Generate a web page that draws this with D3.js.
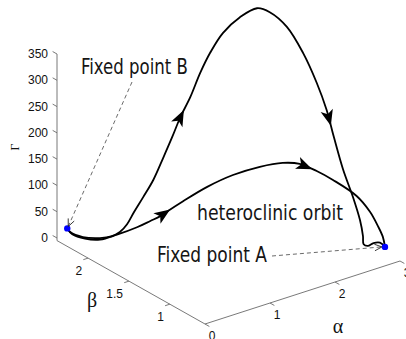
<!DOCTYPE html>
<html><head><meta charset="utf-8">
<script src="https://cdn.jsdelivr.net/npm/d3@7"></script>
<style>html,body{margin:0;padding:0;background:#fff;overflow:hidden}</style>
</head><body>
<svg id="chart" width="406" height="339"></svg>
<script>
// Axis limits and ticks
const alphaLim = [0, 3];
const betaLim = [0.57, 2.38];
const zLim = [-5, 350];
const alphaTicks = [0, 1, 2, 3];
const betaTicks = [1, 1.5, 2];
const zTicks = [0, 50, 100, 150, 200, 250, 300, 350];

// Orbit samples as [alpha, beta, z]
const upperOrbit = [
  [0.12,2.35,16],[0.14,2.33,10],[0.26,2.27,1],[0.41,2.18,1],[0.52,2.13,4],
  [0.59,2.08,14],[0.65,2.04,30],[0.72,2.01,53],[0.80,1.96,83],[0.89,1.91,116],
  [0.98,1.86,159],[1.07,1.82,199],[1.13,1.77,238],[1.22,1.72,277],[1.31,1.67,324],
  [1.40,1.62,363],[1.52,1.56,401],[1.67,1.47,433],[1.82,1.38,452],[1.94,1.32,445],
  [2.09,1.23,419],[2.24,1.15,370],[2.36,1.08,315],[2.45,1.03,264],[2.51,0.99,214],
  [2.59,0.94,153],[2.68,0.89,101],[2.75,0.86,57],[2.77,0.84,28],[2.78,0.84,12],
  [2.82,0.82,9],[2.87,0.79,15],[2.93,0.76,16],[2.97,0.73,9]
];
const heteroclinicOrbit = [
  [0.12,2.35,16],[0.16,2.32,6],[0.28,2.26,-2],[0.41,2.18,-2],[0.57,2.10,8],
  [0.74,1.99,25],[0.87,1.93,37],[0.96,1.88,47],[1.01,1.84,57],[1.16,1.76,78],
  [1.38,1.64,107],[1.60,1.50,133],[1.85,1.37,150],[2.05,1.25,160],[2.20,1.16,160],
  [2.36,1.08,147],[2.51,1.00,131],[2.71,0.87,104],[2.84,0.81,74],[2.91,0.77,48],
  [2.95,0.74,28],[2.97,0.73,9]
];
const fixedPointA = [2.97, 0.73, 9];
const fixedPointB = [0.12, 2.35, 16];

// Direction arrows along each orbit (fractional sample index)
const upperArrows = [12, 23.3];
const heteroArrows = [7.5, 14.3];

// Oblique projection of the 3-D box onto the page
const origin = [205, 324];
const ax = d3.scaleLinear(alphaLim, [0, 195]);
const ay = d3.scaleLinear(alphaLim, [0, -63]);
const bx = d3.scaleLinear(betaLim, [0, -148]);
const by = d3.scaleLinear(betaLim, [0, -83.4]);
const zy = d3.scaleLinear(zLim, [0, -186.6]);
const proj = ([a, b, z]) => [origin[0] + ax(a) + bx(b), origin[1] + ay(a) + by(b) + zy(z)];

const svg = d3.select("#chart");
const axisColor = "#6a6a6a";
const tickFont = "'Liberation Sans', Arial, sans-serif";

function unit(dx, dy) { const l = Math.hypot(dx, dy); return [dx / l, dy / l]; }
const alphaDir = unit(ax(1) - ax(0), ay(1) - ay(0));
const betaDir = unit(bx(betaLim[0] + 1) - bx(betaLim[0]), by(betaLim[0] + 1) - by(betaLim[0]));
const tickLen = 5;

const gAxes = svg.append("g").attr("stroke", axisColor).attr("stroke-width", 0.9).attr("fill", "none");
const [bMin, bMax] = betaLim;
const zMin = zLim[0];
const seg = (p, q) => gAxes.append("line").attr("x1", p[0]).attr("y1", p[1]).attr("x2", q[0]).attr("y2", q[1]);

// Axis lines
seg(proj([alphaLim[0], bMin, zMin]), proj([alphaLim[1], bMin, zMin]));
seg(proj([alphaLim[0], bMin, zMin]), proj([alphaLim[0], bMax, zMin]));
seg(proj([alphaLim[0], bMax, zMin]), proj([alphaLim[0], bMax, zLim[1]]));

const labels = svg.append("g").attr("font-family", tickFont).attr("font-size", 12).attr("fill", "#111");

// z ticks (point outward along +beta)
zTicks.forEach(t => {
  const p = proj([0, bMax, t]);
  seg(p, [p[0] + betaDir[0] * tickLen, p[1] + betaDir[1] * tickLen]);
  labels.append("text").attr("x", p[0] - 9).attr("y", p[1]).attr("text-anchor", "end")
    .attr("dominant-baseline", "central").text(t);
});
// beta ticks (point outward along -alpha)
betaTicks.forEach(t => {
  const p = proj([0, t, zMin]);
  seg(p, [p[0] - alphaDir[0] * tickLen, p[1] - alphaDir[1] * tickLen]);
  labels.append("text").attr("x", p[0] - 6).attr("y", p[1] + 12.5).attr("text-anchor", "end")
    .attr("dominant-baseline", "central").text(t);
});
// alpha ticks (point outward along -beta)
alphaTicks.forEach(t => {
  const p = proj([t, bMin, zMin]);
  seg(p, [p[0] - betaDir[0] * tickLen, p[1] - betaDir[1] * tickLen]);
  labels.append("text").attr("x", p[0] + 7).attr("y", p[1] + 11.5).attr("text-anchor", "middle")
    .attr("dominant-baseline", "central").text(t);
});

// Axis titles
const titleFont = "'Liberation Serif', 'Times New Roman', serif";
svg.append("text").attr("x", 92).attr("y", 300).attr("text-anchor", "middle").attr("dominant-baseline", "central")
  .attr("font-family", titleFont).attr("font-size", 20).attr("fill", "#111").text("β");
svg.append("text").attr("x", 338).attr("y", 326).attr("text-anchor", "middle").attr("dominant-baseline", "central")
  .attr("font-family", titleFont).attr("font-size", 20).attr("fill", "#111").text("α");
svg.append("text").attr("transform", "translate(15,147) rotate(-90)").attr("text-anchor", "middle")
  .attr("dominant-baseline", "central").attr("font-family", titleFont).attr("font-size", 12)
  .attr("fill", "#111").text("Γ");

// Orbits
const line = d3.line().curve(d3.curveCatmullRom.alpha(0.5));
const orbits = svg.append("g").attr("fill", "none").attr("stroke", "#000")
  .attr("stroke-width", 1.8).attr("stroke-linejoin", "round").attr("stroke-linecap", "round");
const upperPts = upperOrbit.map(proj);
const heteroPts = heteroclinicOrbit.map(proj);
orbits.append("path").attr("d", line(heteroPts));
orbits.append("path").attr("d", line(upperPts));

// Flow-direction arrowheads
function arrowAt(pts, at) {
  const i = Math.floor(at), f = at - i;
  const p0 = pts[i], p1 = pts[i + 1];
  const x = p0[0] + (p1[0] - p0[0]) * f, y = p0[1] + (p1[1] - p0[1]) * f;
  const ang = Math.atan2(p1[1] - p0[1], p1[0] - p0[0]) * 180 / Math.PI;
  svg.append("path").attr("d", "M8,0 L-8,-6.3 L-4,0 L-8,6.3 Z").attr("fill", "#000")
    .attr("transform", `translate(${x},${y}) rotate(${ang})`);
}
upperArrows.forEach(a => arrowAt(upperPts, a));
heteroArrows.forEach(a => arrowAt(heteroPts, a));

// Fixed points
[fixedPointA, fixedPointB].forEach(fp => {
  const p = proj(fp);
  svg.append("circle").attr("cx", p[0]).attr("cy", p[1]).attr("r", 3.2).attr("fill", "#0000ff");
});

// Annotations
const annFont = "'DejaVu Sans Condensed', 'DejaVu Sans', sans-serif";
function note(txt, x, y, w) {
  svg.append("text").attr("x", x).attr("y", y).attr("font-family", annFont).attr("font-size", 21.5)
    .attr("fill", "#151515").attr("textLength", w).attr("lengthAdjust", "spacingAndGlyphs").text(txt);
}
note("Fixed point B", 81, 74, 107);
note("heteroclinic orbit", 197, 220, 146);
note("Fixed point A", 157, 262, 110);

function pointer(from, to) {
  svg.append("line").attr("x1", from[0]).attr("y1", from[1]).attr("x2", to[0]).attr("y2", to[1])
    .attr("stroke", "#444").attr("stroke-width", 0.8).attr("stroke-dasharray", "4,3");
  const ang = Math.atan2(to[1] - from[1], to[0] - from[0]);
  const L = 8, spread = 0.42;
  const head = [ang - spread, ang + spread].map(t => [to[0] - L * Math.cos(t), to[1] - L * Math.sin(t)]);
  svg.append("path").attr("d", `M${head[0][0]},${head[0][1]} L${to[0]},${to[1]} L${head[1][0]},${head[1][1]}`)
    .attr("fill", "none").attr("stroke", "#222").attr("stroke-width", 0.9);
}
const pB = proj(fixedPointB), pA = proj(fixedPointA);
pointer([132, 82], [pB[0] + 1, pB[1] - 2]);
pointer([272, 256], [pA[0] - 3, pA[1]]);
</script>
</body></html>
